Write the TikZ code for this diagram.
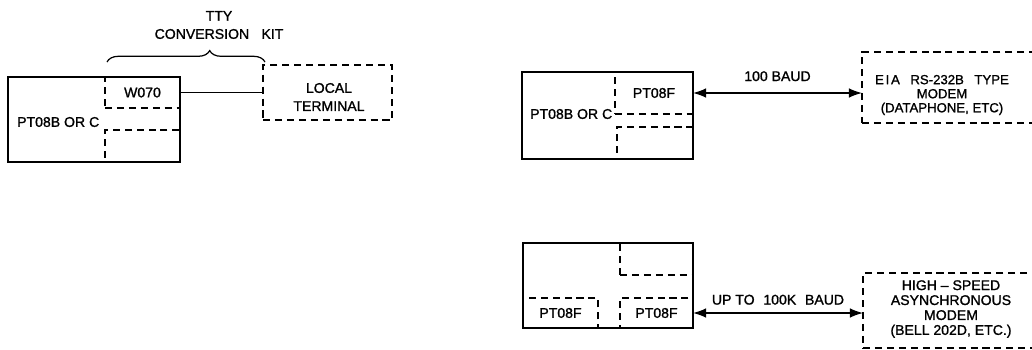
\documentclass[tikz,border=0pt]{standalone}
\usepackage{fontspec}
\setmainfont[FakeBold=1.2]{Liberation Sans}
\usetikzlibrary{arrows.meta,decorations.pathreplacing}

\begin{document}
\begin{tikzpicture}[x=0.02cm,y=-0.02cm,font=\fontsize{8}{10}\selectfont,
  solidbox/.style={draw,line width=1.1pt,inner sep=0pt,outer sep=0pt},
  dashbox/.style={draw,line width=1.1pt,dash pattern=on 4pt off 2.8pt,inner sep=0pt,outer sep=0pt},
  link/.style={line width=0.8pt,{Latex[length=7.5pt,width=5.5pt]}-{Latex[length=7.5pt,width=5.5pt]}}]
\useasboundingbox (0,0) rectangle (1032,349);
% teletype through the conversion kit
\node[dashbox,minimum width=1.50cm,minimum height=0.62cm] (w) at (142.5,92.5){W070};
\node[dashbox,minimum width=1.50cm,minimum height=0.64cm] (wx) at (142.5,146){};
\node[solidbox,minimum width=3.44cm,minimum height=1.70cm] (a) at (94,119.5){};
\node[anchor=west] (al) at (11,122){PT08B OR C};
\node[dashbox,minimum width=2.58cm,minimum height=1.10cm] (t) at (327.5,92.5){};
\node[align=center,font=\fontsize{8}{10.3}\selectfont] (tl) at (329,97){LOCAL\\TERMINAL};
\draw[line width=0.7pt](w.east)--(t.west);
\draw[line width=0.7pt,decorate,decoration={brace,amplitude=6.5pt,aspect=0.65}](107,62)--(265,62);
\node[align=center,font=\fontsize{8}{10.3}\selectfont] (k) at (219,25){TTY\\CONVERSION\hspace{7pt}KIT};
%
% 100 baud modem
\node[dashbox,minimum width=1.56cm,minimum height=0.84cm] (f) at (654,93){PT08F};
\node[dashbox,minimum width=1.52cm,minimum height=0.64cm] (fx) at (655,143){};
\node[solidbox,minimum width=3.42cm,minimum height=1.74cm] (b) at (607.5,115.5){};
\node[anchor=west] (bl) at (524,114){PT08B OR C};
\node[dashbox,minimum width=3.66cm,minimum height=1.42cm] (e) at (953.5,87.5){};
\node[align=center,font=\fontsize{7.5}{8}\selectfont] (el) at (942,95)
  {E\hspace{1pt}I\hspace{1pt}A\hspace{6pt}RS-232B\hspace{6pt}TYPE\\MODEM\\(DATAPHONE, ETC)};
\draw[link](f.east)--node[above=3pt]{100 BAUD}(f.east -| e.west);
%
% high speed modem
\node[dashbox,minimum width=1.46cm,minimum height=0.64cm] (cx) at (656.5,259){};
\node[dashbox,minimum width=1.50cm,minimum height=0.60cm] (g) at (560.5,313){PT08F};
\node[dashbox,minimum width=1.46cm,minimum height=0.60cm] (h) at (656.5,313){PT08F};
\node[solidbox,minimum width=3.40cm,minimum height=1.70cm] (c) at (608,285.5){};
\node[dashbox,minimum width=3.64cm,minimum height=1.50cm] (m) at (954,310.5){};
\node[align=center,font=\fontsize{8}{8.5}\selectfont] (ml) at (951,309){HIGH -- SPEED\\ASYNCHRONOUS\\MODEM\\(BELL 202D, ETC.)};
\draw[link](h.east)--node[above=1pt]{UP TO\hspace{5pt}100K\hspace{5pt}BAUD}(h.east -| m.west);

\end{tikzpicture}
\end{document}
